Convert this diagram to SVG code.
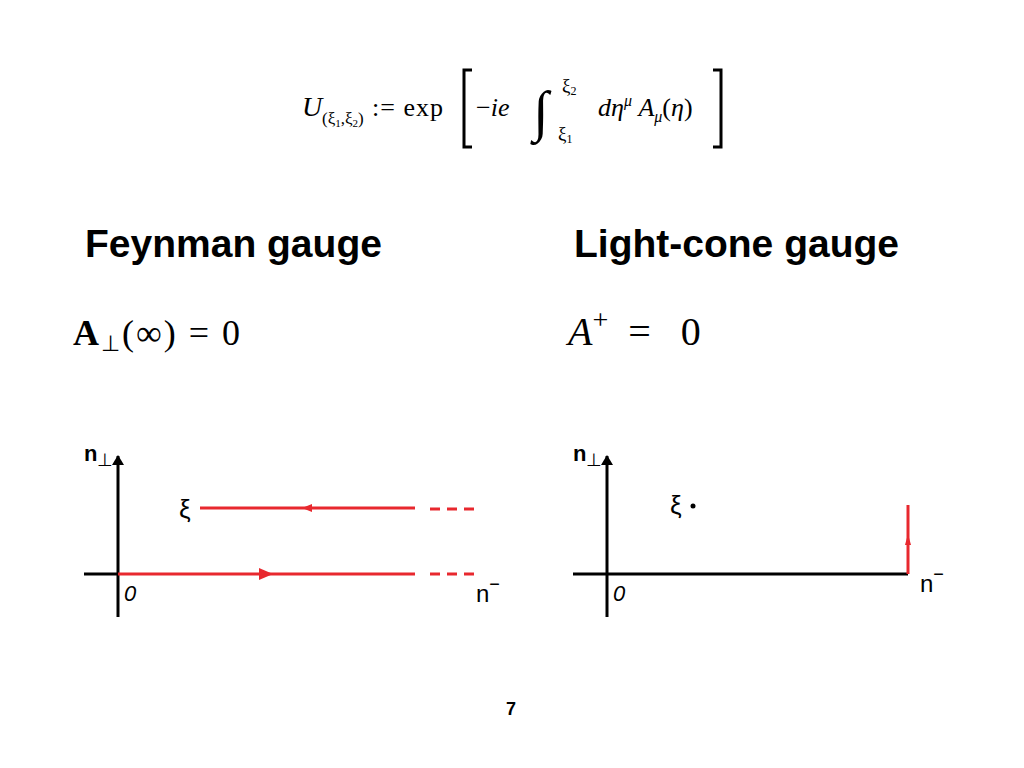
<svg xmlns="http://www.w3.org/2000/svg" width="1024" height="768" viewBox="0 0 1024 768">
<style>
.t{font-family:"Liberation Serif",serif;fill:#000}
.h{font-family:"Liberation Sans",Arial,sans-serif;font-weight:bold;font-size:39px;fill:#000}
.s{font-family:"Liberation Sans",Arial,sans-serif;fill:#000}
.ax{stroke:#000;stroke-width:3;fill:none}
.r{stroke:#e8282e;stroke-width:3;fill:none}
</style>
<defs>
<marker id="ah" markerWidth="10" markerHeight="12" refX="9" refY="6" orient="auto" markerUnits="userSpaceOnUse"><path d="M0,0 L10,6 L0,12 Z" fill="#000"/></marker>
</defs>
<rect width="1024" height="768" fill="#fff"/>
<g id="formula">
<text class="t" x="302" y="116" font-size="28" font-style="italic">U</text>
<text class="t" x="322" y="124" font-size="17">(ξ<tspan font-size="11" dy="3">1</tspan><tspan dy="-3">,ξ</tspan><tspan font-size="11" dy="3">2</tspan><tspan dy="-3">)</tspan></text>
<text class="t" x="372" y="116" font-size="26" letter-spacing="1">:= exp</text>
<path d="M472,70 H464 V147 H472" class="ax" stroke-width="2"/>
<text class="t" x="476" y="116" font-size="26">−<tspan font-style="italic">ie</tspan></text>
<text class="t" x="533" y="130" font-size="56" font-style="italic">∫</text>
<text class="t" x="562" y="92" font-size="19">ξ<tspan font-size="12" dy="3">2</tspan></text>
<text class="t" x="558" y="140" font-size="19">ξ<tspan font-size="12" dy="3">1</tspan></text>
<text class="t" x="598" y="116" font-size="26" font-style="italic">dη<tspan font-size="16" dy="-10">μ</tspan><tspan dy="10"> A</tspan><tspan font-size="16" dy="6">μ</tspan><tspan dy="-6" font-style="normal">(</tspan>η<tspan font-style="normal">)</tspan></text>
<path d="M713,70 H721 V147 H713" class="ax" stroke-width="2"/>
</g>
<g id="headings">
<text class="h" x="85" y="257">Feynman gauge</text>
<text class="h" x="574" y="257">Light-cone gauge</text>
<text class="t" x="73" y="345" font-size="36" letter-spacing="2"><tspan font-weight="bold">A</tspan><tspan font-size="22" dy="6">⊥</tspan><tspan dy="-6">(∞) = 0</tspan></text>
<text class="t" x="568" y="345" font-size="40" font-style="italic">A<tspan font-style="normal" font-size="28" dy="-16">+</tspan><tspan font-style="normal" dy="16" letter-spacing="10"> = 0</tspan></text>
</g>
<g id="left-diagram">
<line class="ax" x1="118" y1="617" x2="118" y2="456" marker-end="url(#ah)"/>
<line class="ax" x1="84" y1="574" x2="118" y2="574"/>
<text class="s" x="84" y="461" font-size="22" font-weight="bold">n<tspan font-size="18" dy="5" font-weight="normal">⊥</tspan></text>
<text class="s" x="124" y="601" font-size="22" font-style="italic">0</text>
<text class="s" x="476" y="602" font-size="24">n<tspan font-size="18" dy="-12">−</tspan></text>
<text class="s" x="179" y="518" font-size="26">ξ</text>
</g>
<g id="right-diagram">
<line class="ax" x1="607" y1="617" x2="607" y2="456" marker-end="url(#ah)"/>
<line class="ax" x1="573" y1="574" x2="908" y2="574"/>
<text class="s" x="573" y="461" font-size="22" font-weight="bold">n<tspan font-size="18" dy="5" font-weight="normal">⊥</tspan></text>
<text class="s" x="613" y="601" font-size="22" font-style="italic">0</text>
<text class="s" x="920" y="592" font-size="24">n<tspan font-size="18" dy="-12">−</tspan></text>
<text class="s" x="670" y="514" font-size="26">ξ</text>
<circle cx="693" cy="506" r="2.5" fill="#000"/>
</g>
<g id="connectors">
<line class="r" x1="118" y1="574" x2="415" y2="574"/>
<path d="M259,568 L273,574 L259,580 Z" fill="#e8282e"/>
<path d="M430,574 H475" class="r" stroke-dasharray="10,7"/>
<line class="r" x1="200" y1="508" x2="415" y2="508"/>
<path d="M312,504 L302,508 L312,512 Z" fill="#e8282e"/>
<path d="M430,509 H475" class="r" stroke-dasharray="10,7"/>
<line class="r" x1="908" y1="574" x2="908" y2="505"/>
<path d="M905,545 L908,534 L911,545 Z" fill="#e8282e"/>
</g>
<text class="s" x="511" y="715" font-size="18" font-weight="bold" text-anchor="middle">7</text>
</svg>
